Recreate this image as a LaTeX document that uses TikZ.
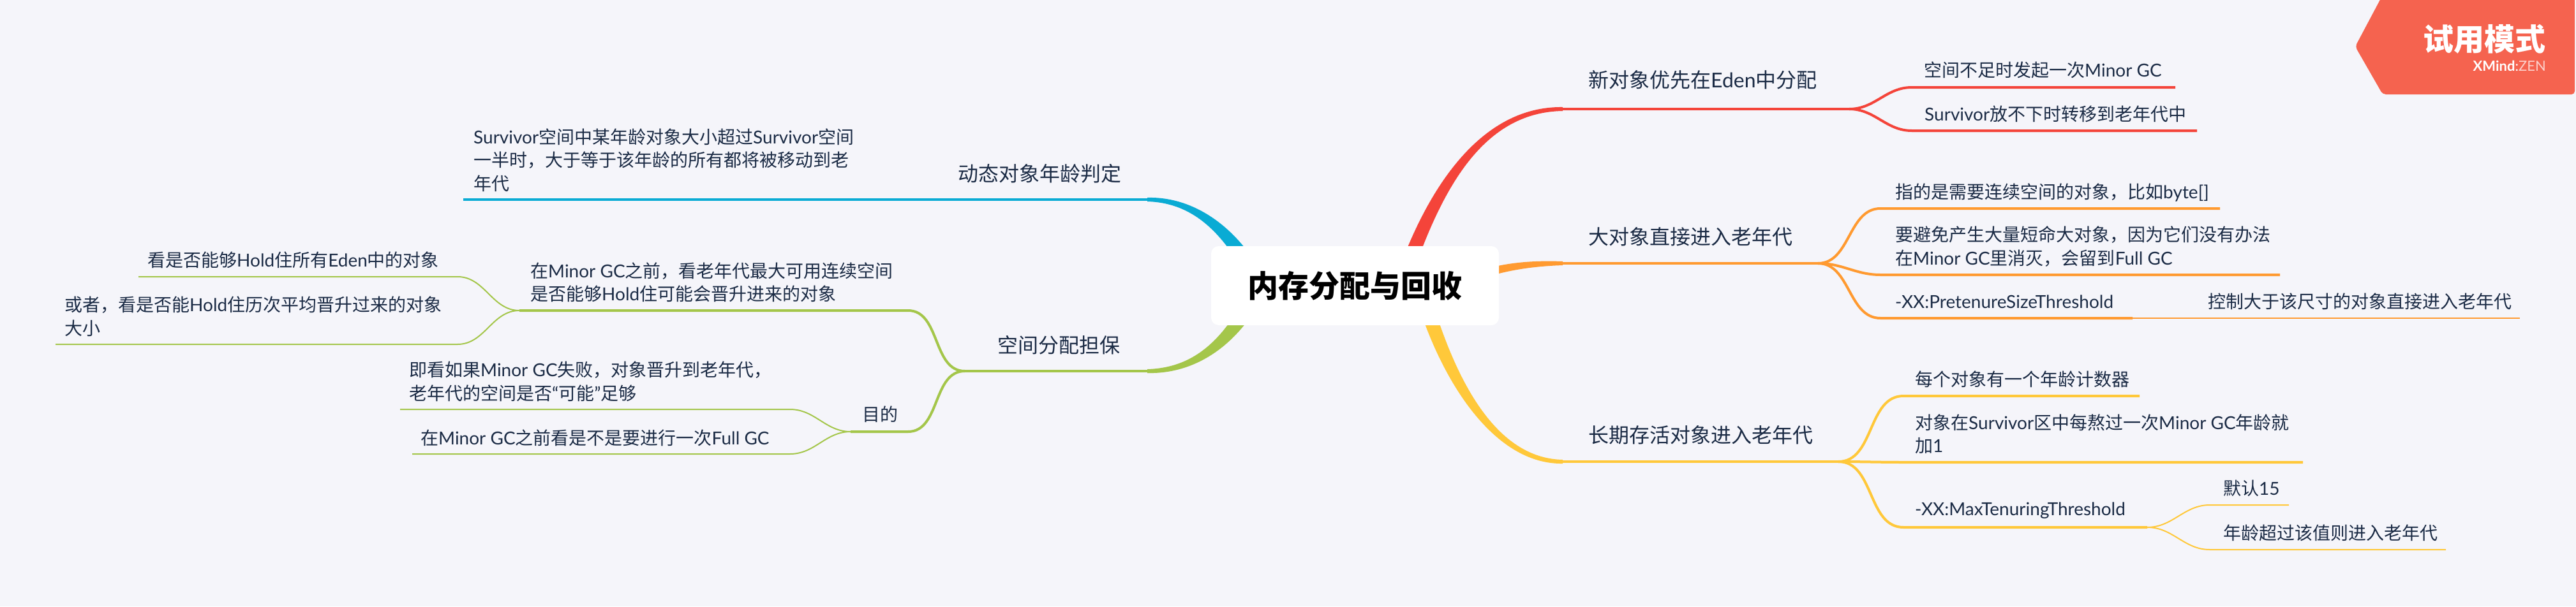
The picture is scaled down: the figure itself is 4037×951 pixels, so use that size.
\documentclass[tikz,border=0pt]{standalone}
\usepackage{fontspec}
\setmainfont{Noto Sans CJK SC}
\newfontfamily\latinfont{Lato}
\usepackage{xcolor}
\definecolor{Paper}{HTML}{F5F5FA}
\definecolor{Ink}{HTML}{1B2B45}
\definecolor{Tomato}{HTML}{F4443A}
\definecolor{Amber}{HTML}{FF9A30}
\definecolor{Gold}{HTML}{FFC83A}
\definecolor{Sky}{HTML}{0AABD4}
\definecolor{Leaf}{HTML}{A4C64A}
\definecolor{Badge}{HTML}{F5634F}
\usetikzlibrary{calc}
\newcommand{\lat}[1]{{\latinfont #1}}
% tapered trunk: colour, start, half width at start, control, control, end
\newcommand{\trunk}[6]{
  \fill[#1] ($(#2)+(#3)$) .. controls ($(#4)+(#3)$) and ($(#5)+(0,-5)$) .. ($(#6)+(0,-3)$)
    -- ($(#6)+(0,3)$) .. controls ($(#5)+(0,5)$) and ($(#4)-(#3)$) .. ($(#2)-(#3)$) -- cycle;
}
\tikzset{
  x=1pt, y=-1pt,
  mainTxt/.style={anchor=west, inner sep=0pt, align=left, text=Ink, font=\fontsize{32}{40}\selectfont},
  subTxt/.style={anchor=west, inner sep=0pt, align=left, text=Ink, font=\fontsize{28}{36.5}\selectfont},
  rWire/.style={line width=4pt, color=Tomato},
  oWire/.style={line width=4pt, color=Amber},
  yWire/.style={line width=4pt, color=Gold},
  bWire/.style={line width=4pt, color=Sky},
  gWire/.style={line width=4pt, color=Leaf},
}
\begin{document}
\begin{tikzpicture}
\useasboundingbox (0,0) rectangle (4037,951);
\fill[Paper] (0,0) rectangle (4037,951);

\coordinate (rootC) at (2123.5,448);

% Junctions on the right
\coordinate (newA) at (2449,171);
\coordinate (newB) at (2898,171);
\coordinate (newC1) at (2996,137);
\coordinate (newD1) at (3409,137);
\coordinate (newC2) at (2996,205);
\coordinate (newD2) at (3443,205);
\coordinate (bigA) at (2449,413);
\coordinate (bigB) at (2849,413);
\coordinate (bigC1) at (2947,327);
\coordinate (bigD1) at (3479,327);
\coordinate (bigC2) at (2947,431);
\coordinate (bigD2) at (3573,431);
\coordinate (bigC3) at (2947,499);
\coordinate (bigD3) at (3342,499);
\coordinate (bigE3) at (3949,499);
\coordinate (oldA) at (2449,724);
\coordinate (oldB) at (2881,724);
\coordinate (oldC1) at (2983,621);
\coordinate (oldD1) at (3353,621);
\coordinate (oldC2) at (2983,725);
\coordinate (oldD2) at (3609,725);
\coordinate (oldC3) at (2983,827);
\coordinate (oldD3) at (3365,827);
\coordinate (oldF1) at (3463,792);
\coordinate (oldG1) at (3587,792);
\coordinate (oldF2) at (3463,862);
\coordinate (oldG2) at (3833,862);

% Junctions on the left
\coordinate (ageA) at (1798,313);
\coordinate (ageB) at (726,313);
\coordinate (spaceA) at (1798,582);
\coordinate (spaceB) at (1512,582);
\coordinate (spaceC1) at (1423,487);
\coordinate (spaceD1) at (814,487);
\coordinate (spaceE1) at (717,434);
\coordinate (spaceF1) at (217,434);
\coordinate (spaceE2) at (717,540);
\coordinate (spaceF2) at (87,540);
\coordinate (spaceC2) at (1423,677);
\coordinate (spaceD2) at (1333,677);
\coordinate (spaceG1) at (1238,642);
\coordinate (spaceH1) at (627,642);
\coordinate (spaceG2) at (1238,712);
\coordinate (spaceH2) at (646,712);

% Trunks
\trunk{Tomato}{$(rootC)+(72,0)$}{-11,-3}{2245,300}{2320,171}{newA}
\trunk{Amber}{$(rootC)+(157,-3)$}{0,-7}{2340,420}{2390,413}{bigA}
\trunk{Gold}{$(rootC)+(102,0)$}{11,-3}{2265,590}{2340,724}{oldA}
\trunk{Sky}{$(rootC)+(-149,0)$}{11,-5}{1930,360}{1870,313}{ageA}
\trunk{Leaf}{$(rootC)+(-149,0)$}{-11,-5}{1930,540}{1870,582}{spaceA}

\node[fill=white, rounded corners=12pt, minimum width=451pt, minimum height=124pt, inner sep=0pt,
  font=\fontsize{48}{56}\selectfont\bfseries] at (rootC) (root) {内存分配与回收};

% Red branch
\draw[rWire] (newA) -- (newB);
\draw[rWire] (newB) to[out=0,in=180] (newC1) -- (newD1);
\draw[rWire] (newB) to[out=0,in=180] (newC2) -- (newD2);
\node[mainTxt] at (2489,125) (new) {新对象优先在\lat{Eden}中分配};
\node[subTxt] at (3015,110) (new1) {空间不足时发起一次\lat{Minor GC}};
\node[subTxt] at (3016,179) (new2) {\lat{Survivor}放不下时转移到老年代中};

% Orange branch
\draw[oWire] (bigA) -- (bigB);
\draw[oWire] (bigB) to[out=0,in=180] (bigC1) -- (bigD1);
\draw[oWire] (bigB) to[out=0,in=180] (bigC2) -- (bigD2);
\draw[oWire] (bigB) to[out=0,in=180] (bigC3) -- (bigD3);
\draw[oWire, line width=2pt] (bigD3) -- (bigE3);
\node[mainTxt] at (2489,371) (big) {大对象直接进入老年代};
\node[subTxt] at (2970,302) (big1) {指的是需要连续空间的对象，比如\lat{byte[]}};
\node[subTxt] at (2970,386.5) (big2) {要避免产生大量短命大对象，因为它们没有办法\\在\lat{Minor GC}里消灭，会留到\lat{Full GC}};
\node[subTxt] at (2970,473) (big3) {\lat{-XX:PretenureSizeThreshold}};
\node[subTxt] at (3460,473) (big4) {控制大于该尺寸的对象直接进入老年代};

% Yellow branch
\draw[yWire] (oldA) -- (oldB);
\draw[yWire] (oldB) to[out=0,in=180] (oldC1) -- (oldD1);
\draw[yWire] (oldB) to[out=0,in=180] (oldC2) -- (oldD2);
\draw[yWire] (oldB) to[out=0,in=180] (oldC3) -- (oldD3);
\draw[yWire, line width=2pt] (oldD3) to[out=0,in=180] (oldF1) -- (oldG1);
\draw[yWire, line width=2pt] (oldD3) to[out=0,in=180] (oldF2) -- (oldG2);
\node[mainTxt] at (2489,682) (old) {长期存活对象进入老年代};
\node[subTxt] at (3001,595) (old1) {每个对象有一个年龄计数器};
\node[subTxt] at (3001,680.5) (old2) {对象在\lat{Survivor}区中每熬过一次\lat{Minor GC}年龄就\\加\lat{1}};
\node[subTxt] at (3001,801) (old3) {\lat{-XX:MaxTenuringThreshold}};
\node[subTxt] at (3484,766) (old4) {默认\lat{15}};
\node[subTxt] at (3484,836) (old5) {年龄超过该值则进入老年代};

% Blue branch
\draw[bWire] (ageA) -- (ageB);
\node[mainTxt] at (1501,272) (age) {动态对象年龄判定};
\node[subTxt] at (742,251) (age1) {\lat{Survivor}空间中某年龄对象大小超过\lat{Survivor}空间\\一半时，大于等于该年龄的所有都将被移动到老\\年代};

% Green branch
\draw[gWire] (spaceA) -- (spaceB);
\draw[gWire] (spaceB) to[out=180,in=0] (spaceC1) -- (spaceD1);
\draw[gWire] (spaceB) to[out=180,in=0] (spaceC2) -- (spaceD2);
\draw[gWire, line width=2pt] (spaceD1) to[out=180,in=0] (spaceE1) -- (spaceF1);
\draw[gWire, line width=2pt] (spaceD1) to[out=180,in=0] (spaceE2) -- (spaceF2);
\draw[gWire, line width=2pt] (spaceD2) to[out=180,in=0] (spaceG1) -- (spaceH1);
\draw[gWire, line width=2pt] (spaceD2) to[out=180,in=0] (spaceG2) -- (spaceH2);
\node[mainTxt] at (1563,541) (space) {空间分配担保};
\node[subTxt] at (831,443) (space1) {在\lat{Minor GC}之前，看老年代最大可用连续空间\\是否能够\lat{Hold}住可能会晋升进来的对象};
\node[subTxt] at (1351,650) (space2) {目的};
\node[subTxt] at (231,408) (space3) {看是否能够\lat{Hold}住所有\lat{Eden}中的对象};
\node[subTxt] at (101,496.5) (space4) {或者，看是否能\lat{Hold}住历次平均晋升过来的对象\\大小};
\node[subTxt] at (641,598.5) (space5) {即看如果\lat{Minor GC}失败，对象晋升到老年代，\\老年代的空间是否\lat{“}可能\lat{”}足够};
\node[subTxt] at (659,687) (space6) {在\lat{Minor GC}之前看是不是要进行一次\lat{Full GC}};

% Badge
\fill[Badge, rounded corners=5pt] (3734,-8) -- (3691,73) -- (3734,148) -- (4035,148) -- (4035,-8) -- cycle;
\node[anchor=east, inner sep=0pt, text=white, font=\fontsize{48}{56}\selectfont\bfseries] at (3990,61) (badgeTxt) {试用模式};
\node[anchor=east, inner sep=0pt, text=white, font=\fontsize{22}{26}\selectfont\latinfont] at (3990,103) (badgeBrand) {\textbf{XMind}:\textcolor{white!70!Badge}{ZEN}};

\end{tikzpicture}
\end{document}
